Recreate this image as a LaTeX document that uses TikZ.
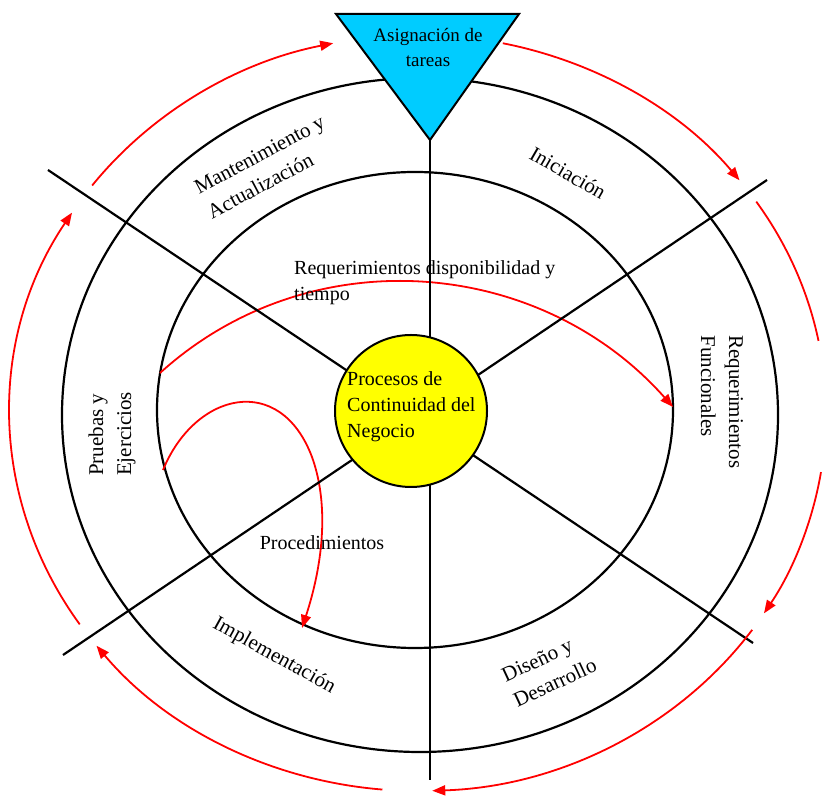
\documentclass[tikz,border=0pt]{standalone}
\usepackage{fontspec}
\setmainfont{Liberation Serif}
\usetikzlibrary{arrows.meta}
\definecolor{tasksky}{RGB}{0,204,255}
\definecolor{coreyellow}{RGB}{255,255,0}
\definecolor{flowred}{RGB}{255,0,0}
\begin{document}
\begin{tikzpicture}[x=1pt,y=1pt,
  ring/.style={draw=black,line width=2.2pt},
  spoke/.style={draw=black,line width=2.2pt},
  flow/.style={draw=flowred,line width=1.8pt,-{Triangle[length=13pt,width=10pt]}},
  plainflow/.style={draw=flowred,line width=1.8pt},
  phase/.style={font=\fontsize{21}{28}\selectfont,align=left,inner sep=0pt},
  note/.style={font=\fontsize{20}{26}\selectfont,align=left,inner sep=0pt}]
\useasboundingbox (0,0) rectangle (826,797);

% the two rings of the cycle
\draw[ring] (420,382) ellipse [x radius=358pt, y radius=337pt];
\draw[ring] (415,387) ellipse [x radius=258pt, y radius=238pt];

% inner red flows, drawn below the spokes
\draw[flow] (160,424) .. controls (310,560) and (540,540) .. (673,390);
\draw[flow] (163,327) .. controls (195,405) and (280,425) .. (312,340)
            .. controls (330,290) and (322,230) .. (302,169);

% spokes
\coordinate (nw) at (48,627);
\coordinate (se) at (753,154);
\coordinate (ne) at (767,617);
\coordinate (sw) at (63,142);
\coordinate (top) at (430,657);
\coordinate (bottom) at (430,17);
\draw[spoke] (nw) -- (se);
\draw[spoke] (ne) -- (sw);
\draw[spoke] (top) -- (bottom);

% outer cycle arcs around the centre (418,384)
\coordinate (o) at (418,384);
\draw[flow] (o) ++(214:408pt and 378pt) arc[start angle=214,end angle=148,x radius=408pt,y radius=378pt];
\draw[flow] (o) ++(143:408pt and 378pt) arc[start angle=143,end angle=102,x radius=408pt,y radius=378pt];
\draw[flow] (o) ++(78:408pt and 378pt) arc[start angle=78,end angle=38,x radius=408pt,y radius=378pt];
\draw[plainflow] (o) ++(34:408pt and 378pt) arc[start angle=34,end angle=11,x radius=408pt,y radius=378pt];
\draw[flow] (o) ++(-9:408pt and 378pt) arc[start angle=-9,end angle=-32,x radius=408pt,y radius=378pt];
\draw[flow] (o) ++(-35:408pt and 378pt) arc[start angle=-35,end angle=-88,x radius=408pt,y radius=378pt];
\draw[flow] (o) ++(-95:408pt and 378pt) arc[start angle=-95,end angle=-142,x radius=408pt,y radius=378pt];

% centre and task triangle
\node[circle,fill=coreyellow,draw=black,line width=2pt,minimum size=152pt,inner sep=0pt] (core) at (411,386) {};
\filldraw[fill=tasksky,draw=black,line width=2pt] (336,783) -- (519,783) -- (top) -- cycle;

% texts
\node[note,anchor=west] (coretext) at (347,390) {Procesos de\\Continuidad del\\Negocio};
\node[note,align=center,font=\fontsize{19}{25}\selectfont] (tasks) at (428,750) {Asignación de\\tareas};
\node[note,anchor=west] (avail) at (294,514) {Requerimientos disponibilidad y\\tiempo};
\node[note] (proc) at (322,254) {Procedimientos};

\node[phase,rotate=28] (maint) at (266,630) {Mantenimiento y\\Actualización};
\node[phase,rotate=-30] (init) at (568,624) {Iniciación};
\node[phase,rotate=-90] (funreq) at (722,395) {Requerimientos\\Funcionales};
\node[phase,rotate=25] (design) at (549,127) {Diseño y\\Desarrollo};
\node[phase,rotate=-29] (impl) at (274,141) {Implementación};
\node[phase,rotate=90] (tests) at (112,363) {Pruebas y\\Ejercicios};
\end{tikzpicture}
\end{document}
